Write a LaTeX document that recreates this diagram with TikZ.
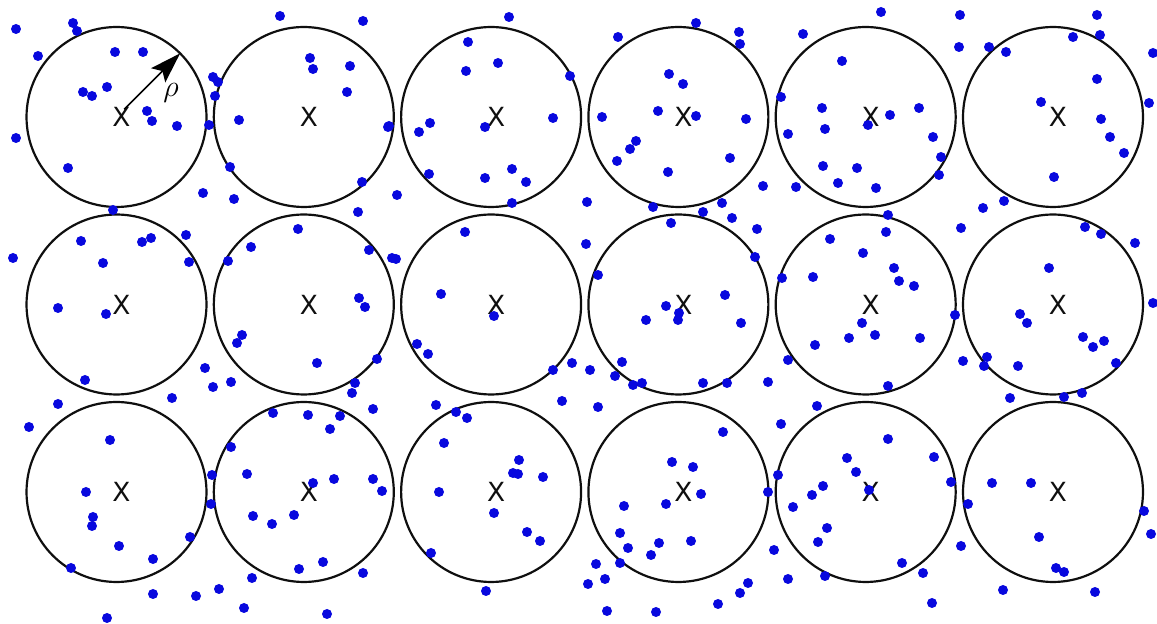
\documentclass[tikz,border=0pt]{standalone}
\usepackage{fontspec}
\setsansfont{DejaVu Sans}
\usepackage{xcolor}
\usetikzlibrary{arrows.meta, positioning, calc}
\definecolor{dotBlue}{RGB}{8,8,222}
\definecolor{ringBlk}{RGB}{15,15,15}

\begin{document}
\begin{tikzpicture}[x=0.02cm, y=-0.02cm,
    RING/.style={draw=ringBlk, circle, line width=1.25pt, minimum size=3.6cm, inner sep=0pt, outer sep=0pt},
    MARK/.style={font=\sffamily\fontsize{15}{15}\selectfont, text=ringBlk, inner sep=0pt, xshift=0.1cm},
    DOT/.style={fill=dotBlue},
    ARR/.style={-{Stealth[length=0.62cm, width=0.4cm, inset=0.12cm]}, line width=0.9pt, black}]
    \useasboundingbox[fill=white] (0,0) rectangle (1157,624);
    % grid of rings with centre marks
    \foreach \r in {1,2,3} {
        \foreach \c in {1,...,6} {
            \node[RING] (c\r\c) at ({116.5+187.3*(\c-1)},{117+187.5*(\r-1)}) {};
            \node[MARK] (x\r\c) at (c\r\c.center) {X};
        }
    }
    % radius arrow
    \coordinate (rstart) at ($(c11.center)!0.12!(c11.45)$);
    \draw[ARR] (rstart) -- (c11.45);
    \node[font=\fontsize{18}{18}\selectfont] (rho) at (171,93) {$\rho$};
    % scattered points
    \foreach \px/\py in {16/29,73/23,77/31,38/56,115/52,143/52,83/92,92/96,107/87,147/111,152/121,177/126,16/138,68/168,213/77,218/82,215/96,209/125,239/120,280/16,363/21,310/58,313/69,350/66,347/92,388/127,230/167,362/182,203/193,234/199,397/195,113/210,358/212,
        509/17,468/42,498/63,466/71,570/76,389/126,430/123,419/132,485/127,553/118,429/174,485/178,512/169,526/182,512/203,618/37,696/23,739/32,740/44,669/74,683/84,658/111,696/116,602/117,746/119,636/141,630/149,617/161,730/158,668/172,763/186,587/202,653/207,722/203,703/212,781/97,
        881/12,803/34,842/61,822/108,825/129,788/134,868/125,890/115,919/108,933/137,941/157,939/175,823/166,857/168,838/183,876/188,796/187,960/15,959/47,989/47,1006/52,1073/37,1097/15,1100/35,1153/53,1097/79,1041/102,1149/103,1101/119,1110/137,1124/153,1054/177,1004/201,983/208,
        13/258,81/241,142/242,151/238,186/235,189/262,103/263,58/308,106/314,85/380,58/404,172/398,205/368,213/387,231/382,298/229,251/247,228/261,369/250,392/258,396/259,359/298,365/307,242/335,237/343,317/363,377/359,355/383,352/393,373/409,
        732/218,757/229,671/223,586/244,465/232,598/275,755/257,441/294,494/316,417/344,428/354,553/370,572/363,590/370,622/362,615/376,633/385,642/383,666/306,679/313,678/320,646/320,725/295,741/323,703/383,727/383,768/382,436/405,562/401,598/407,782/278,
        888/215,886/232,830/239,863/253,813/277,894/268,899/281,914/286,955/315,862/323,875/335,849/338,920/338,815/345,788/360,888/386,817/406,961/228,1085/227,1101/234,1135/243,1049/268,1153/303,1020/314,1027/323,1083/337,1093/347,1104/341,1116/363,963/361,987/357,984/366,1018/366,1010/398,1064/397,1082/393,
        29/427,110/440,86/492,93/517,92/526,119/546,153/559,190/537,71/568,212/475,211/504,231/447,247/474,273/413,308/415,340/416,330/429,313/483,334/479,373/479,382/491,253/516,272/524,294/515,299/569,323/562,363/573,252/578,219/589,196/596,153/594,244/608,327/614,107/618,
        456/412,467/418,444/443,519/460,513/473,518/474,543/477,439/492,494/513,527/532,540/541,431/553,486/591,723/432,672/462,693/467,701/494,666/504,624/506,620/533,628/548,659/543,651/555,691/541,620/563,596/564,605/579,588/584,607/611,656/612,718/604,740/593,748/583,
        781/424,888/439,847/458,856/472,778/475,768/492,823/486,812/495,793/507,869/490,934/457,951/482,968/504,827/528,818/542,774/550,788/579,825/576,902/563,923/573,961/546,932/603,992/483,1031/483,1144/511,1151/534,1039/537,1056/568,1064/572,1003/590,1095/592}
        \fill[DOT] (\px,\py) circle[radius=0.1cm];
\end{tikzpicture}
\end{document}
